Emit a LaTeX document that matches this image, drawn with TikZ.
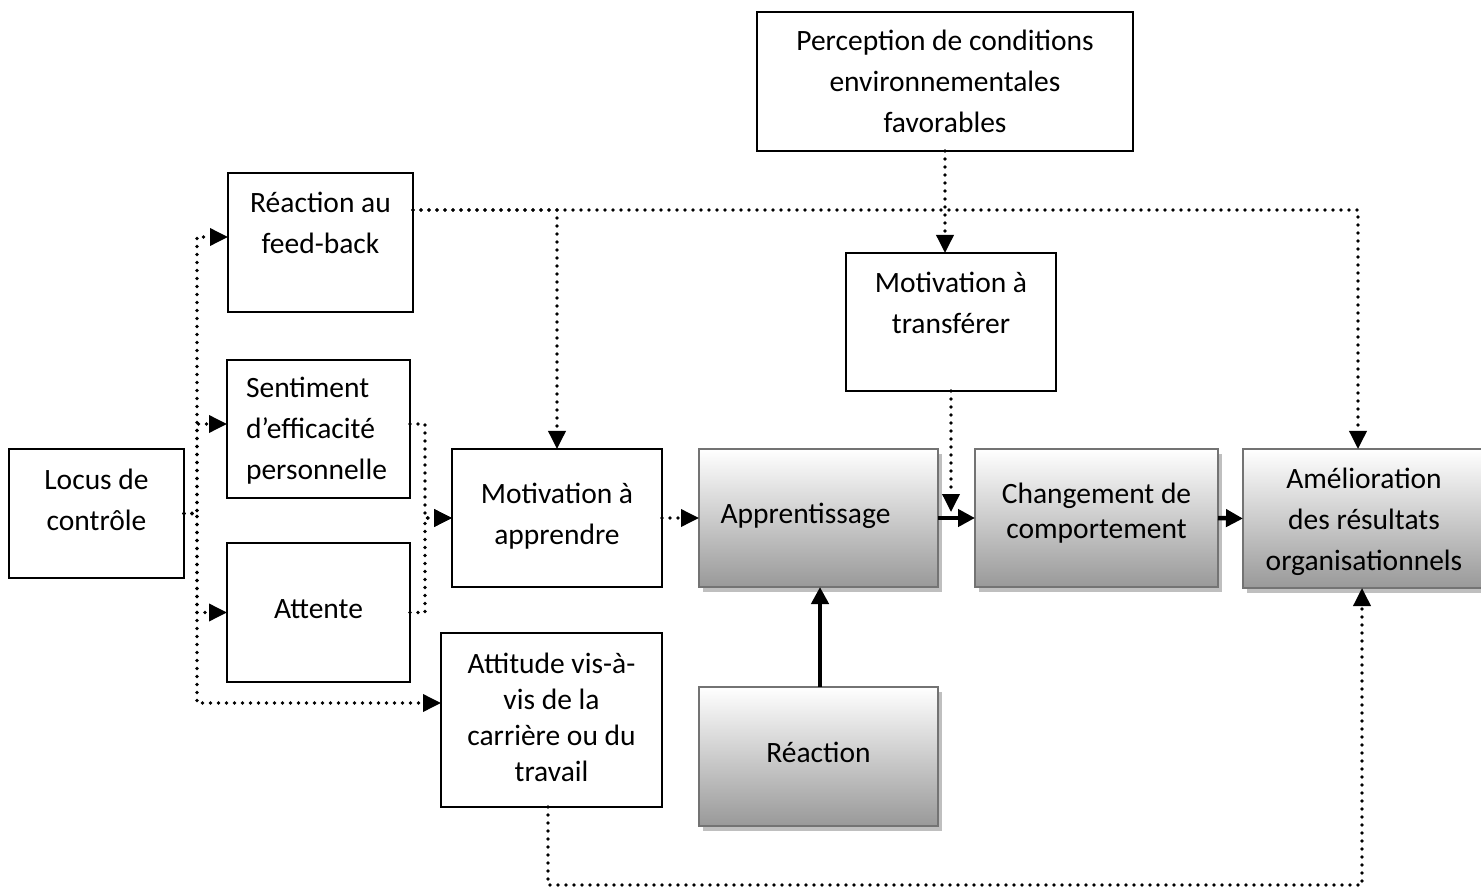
\documentclass[tikz,border=0pt]{standalone}
\usepackage{fontspec}
\setmainfont{Carlito}
\usetikzlibrary{arrows.meta,shadows}
\begin{document}
\begin{tikzpicture}[x=1pt,y=-1pt,
  txt/.style={font=\fontsize{29.5}{41}\selectfont, align=center},
  plainbox/.style={draw=black, line width=2pt, inner sep=0pt, outer sep=0pt, fill=white},
  shadebox/.style={draw=black!55, line width=2.5pt, inner sep=0pt, outer sep=0pt,
    top color=white, bottom color=black!40,
    drop shadow={shadow xshift=4pt, shadow yshift=-5pt, fill=black!25, opacity=1}},
  dotline/.style={line width=3.6pt, line cap=round, dash pattern=on 0pt off 8pt},
  dotarrow/.style={dotline, -{Triangle[length=18pt,width=17pt]}},
  solidarrow/.style={line width=4.5pt, -{Triangle[length=17pt,width=17pt]}},
]
\useasboundingbox (0,0) rectangle (1481,890);

% white boxes
\node[plainbox, minimum width=376pt, minimum height=139pt,
  label={[txt, name=perc-t]center:Perception de conditions\\environnementales\\favorables}]
  (perc) at (945,81.5) {};
\node[plainbox, minimum width=185pt, minimum height=139pt,
  label={[txt, name=fb-t, yshift=20pt]center:Réaction au\\feed-back}]
  (fb) at (320.5,242.5) {};
\node[plainbox, minimum width=183pt, minimum height=138pt,
  label={[txt, name=sent-t, align=left, xshift=-2pt, yshift=-2pt]center:Sentiment\\d’efficacité\\personnelle}]
  (sent) at (318.5,429) {};
\node[plainbox, minimum width=175pt, minimum height=129pt,
  label={[txt, name=locus-t, yshift=13.5pt]center:Locus de\\contrôle}]
  (locus) at (96.5,513.5) {};
\node[plainbox, minimum width=183pt, minimum height=139pt,
  label={[txt, name=attente-t, yshift=3pt]center:Attente}]
  (attente) at (318.5,612.5) {};
\node[plainbox, minimum width=210pt, minimum height=138pt,
  label={[txt, name=motap-t, yshift=2pt]center:Motivation à\\apprendre}]
  (motap) at (557,518) {};
\node[plainbox, minimum width=210pt, minimum height=138pt,
  label={[txt, name=mtr-t, yshift=19pt]center:Motivation à\\transférer}]
  (mtr) at (951,322) {};
\node[plainbox, minimum width=221pt, minimum height=174pt,
  label={[txt, name=att-t, yshift=3pt, font=\fontsize{29.5}{36}\selectfont]center:Attitude vis-à-\\vis de la\\carrière ou du\\travail}]
  (att) at (551.5,720) {};

% shaded boxes
\node[shadebox, minimum width=239pt, minimum height=138pt,
  label={[txt, name=appr-t, xshift=-13pt, yshift=2pt]center:Apprentissage}]
  (appr) at (818.5,518) {};
\node[shadebox, minimum width=243pt, minimum height=138pt,
  label={[txt, name=chg-t, yshift=5pt, font=\fontsize{29.5}{35}\selectfont]center:Changement de\\comportement}]
  (chg) at (1096.5,518) {};
\node[shadebox, minimum width=242pt, minimum height=139pt,
  label={[txt, name=amel-t, yshift=-3pt]center:Amélioration\\des résultats\\organisationnels}]
  (amel) at (1364,518.5) {};
\node[shadebox, minimum width=239pt, minimum height=139pt,
  label={[txt, name=reac-t, yshift=4pt]center:Réaction}]
  (reac) at (818.5,756.5) {};

% locus of control feeding the four antecedents
\draw[dotarrow] (locus.east) -- ++(13,0) |- ([yshift=5.5pt]fb.west);
\draw[dotarrow] (locus.east) -- ++(13,0) |- ([yshift=5pt]sent.west);
\draw[dotarrow] (locus.east) -- ++(13,0) |- (attente.west);
\draw[dotarrow] (locus.east) -- ++(13,0) |- ([yshift=17pt]att.west);

% self-efficacy and expectancy into motivation to learn
\draw[dotarrow] ([yshift=5pt]sent.east) -- ++(15,0) |- (motap.west);
\draw[dotarrow] (attente.east) -- ++(15,0) |- (motap.west);

% feedback reaction line
\draw[dotarrow] ([yshift=32.5pt]fb.east) -| (motap.north);
\draw[dotarrow] ([yshift=32.5pt]fb.east) -| ([xshift=-6pt]amel.north);

% environment and transfer motivation
\draw[dotarrow] (perc.south) -- (perc.south |- mtr.north);
\coordinate (mtrend) at (951,512);
\draw[dotarrow] (mtr.south) -- (mtrend);

% main chain
\draw[dotarrow] (motap.east) -- (appr.west);
\draw[solidarrow] (appr.east) -- (chg.west);
\draw[solidarrow] (chg.east) -- (amel.west);
\draw[solidarrow] ([xshift=1.5pt]reac.north) -- ([xshift=1.5pt]appr.south);

% attitude towards career to organisational results
\draw[dotarrow] ([xshift=-3.5pt]att.south) -- ++(0,78) -| ([xshift=-2pt]amel.south);
\end{tikzpicture}
\end{document}
